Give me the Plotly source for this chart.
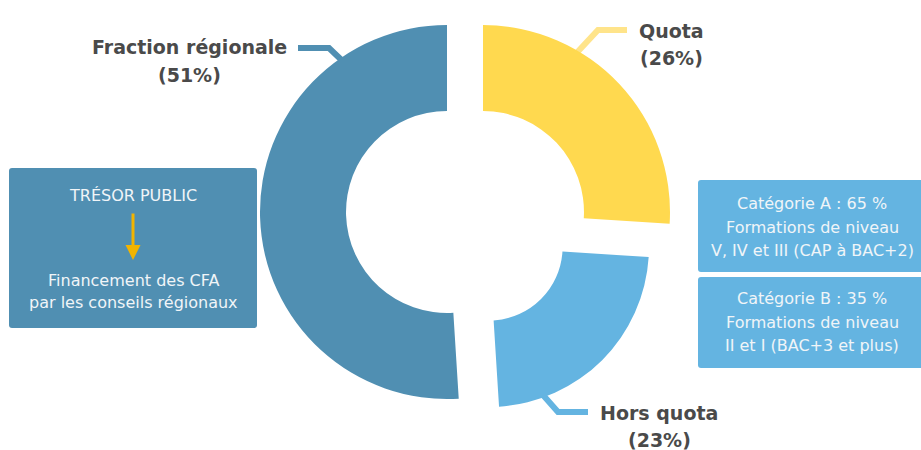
import plotly.graph_objects as go

# ---- data ----
labels = ["Quota", "Hors quota", "Fraction régionale"]
values = [26, 23, 51]
slice_colors = ["#FFD94F", "#64B4E1", "#508FB2"]
connector_colors = ["#FFE48A", "#64B4E1", "#508FB2"]

left_box_title = "TRÉSOR PUBLIC"
left_box_lines = ["Financement des CFA", "par les conseils régionaux"]
right_box_a = ["Catégorie A : 65 %", "Formations de niveau", "V, IV et III (CAP à BAC+2)"]
right_box_b = ["Catégorie B : 35 %", "Formations de niveau", "II et I (BAC+3 et plus)"]

W, H = 921, 450


def px(x):
    return x / W


def py(y):
    return 1 - y / H


# layout geometry of each exploded slice (centre x, centre y, radius, hole)
geom = {
    "Quota": (483, 212, 187, 0.54),
    "Hors quota": (489, 247, 160, 0.46),
    "Fraction régionale": (447, 212, 187, 0.54),
}

fig = go.Figure()
for i, lab in enumerate(labels):
    cx, cy, r, hole = geom[lab]
    cols = [c if j == i else "rgba(0,0,0,0)" for j, c in enumerate(slice_colors)]
    fig.add_trace(go.Pie(
        labels=labels, values=values, sort=False, direction="clockwise", rotation=0,
        hole=hole, textinfo="none", hoverinfo="label+percent",
        marker=dict(colors=cols, line=dict(width=0)),
        domain=dict(x=[px(cx - r), px(cx + r)], y=[py(cy + r), py(cy - r)]),
        showlegend=False,
    ))

shapes = []
annotations = []

# connector lines
conn_paths = {
    "Fraction régionale": [(298, 48), (329, 48), (352, 70)],
    "Quota": [(627, 30), (598, 30), (570, 60)],
    "Hors quota": [(588, 412), (558, 412), (535, 386)],
}
for i, lab in enumerate(labels):
    pts = conn_paths[lab]
    path = "M " + " L ".join(f"{px(x)},{py(y)}" for x, y in pts)
    shapes.append(dict(type="path", xref="paper", yref="paper", path=path,
                       line=dict(color=connector_colors[i], width=6), layer="below"))

# slice labels
label_pos = {
    "Fraction régionale": (189, 47, 75),
    "Quota": (671, 31, 58),
    "Hors quota": (659, 413, 440),
}
lab_font = dict(family="DejaVu Sans, Verdana, sans-serif", size=19, color="#4A4A4A")
for lab, v in zip(labels, values):
    x, y1, y2 = label_pos[lab]
    annotations.append(dict(x=px(x), y=py(y1), xref="paper", yref="paper", showarrow=False,
                            text=f"<b>{lab}</b>", font=lab_font, xanchor="center", yanchor="middle"))
    annotations.append(dict(x=px(x), y=py(y2), xref="paper", yref="paper", showarrow=False,
                            text=f"<b>({v}%)</b>", font=lab_font, xanchor="center", yanchor="middle"))


# boxes (slightly rounded)
def box(x0, y0, x1, y1, color, rr=3):
    pts = (f"M {px(x0 + rr)},{py(y0)} L {px(x1 - rr)},{py(y0)} "
           f"Q {px(x1)},{py(y0)} {px(x1)},{py(y0 + rr)} L {px(x1)},{py(y1 - rr)} "
           f"Q {px(x1)},{py(y1)} {px(x1 - rr)},{py(y1)} L {px(x0 + rr)},{py(y1)} "
           f"Q {px(x0)},{py(y1)} {px(x0)},{py(y1 - rr)} L {px(x0)},{py(y0 + rr)} "
           f"Q {px(x0)},{py(y0)} {px(x0 + rr)},{py(y0)} Z")
    shapes.append(dict(type="path", xref="paper", yref="paper", path=pts,
                       fillcolor=color, line=dict(width=0), layer="below"))


box(9, 168, 257, 328, "#508FB2")
box(698, 180, 924, 272, "#64B4E1")
box(698, 277, 924, 368, "#64B4E1")

box_font = dict(family="DejaVu Sans, Verdana, sans-serif", size=16, color="#F0F5F8")

annotations.append(dict(x=px(133), y=py(195), xref="paper", yref="paper", showarrow=False,
                        text=left_box_title, font=box_font, xanchor="center", yanchor="middle"))
for t, y in zip(left_box_lines, [280, 302]):
    annotations.append(dict(x=px(133), y=py(y), xref="paper", yref="paper", showarrow=False,
                            text=t, font=box_font, xanchor="center", yanchor="middle"))
# arrow in left box
annotations.append(dict(x=px(133), y=py(260), xref="paper", yref="paper", text="",
                        showarrow=True, ax=0, ay=-48, arrowhead=2, arrowsize=1,
                        arrowwidth=3, arrowcolor="#F2B400"))

for lines, ys in ((right_box_a, [203, 227, 250]), (right_box_b, [298, 322, 345])):
    for t, y in zip(lines, ys):
        annotations.append(dict(x=px(812), y=py(y), xref="paper", yref="paper", showarrow=False,
                                text=t, font=box_font, xanchor="center", yanchor="middle"))

fig.update_layout(
    width=W, height=H, margin=dict(l=0, r=0, t=0, b=0),
    paper_bgcolor="white", plot_bgcolor="white",
    shapes=shapes, annotations=annotations, showlegend=False,
)

fig.write_html(
    "out.html",
    config={"displayModeBar": False},
    post_script="document.body.style.margin='0';document.body.style.overflow='hidden';",
)
